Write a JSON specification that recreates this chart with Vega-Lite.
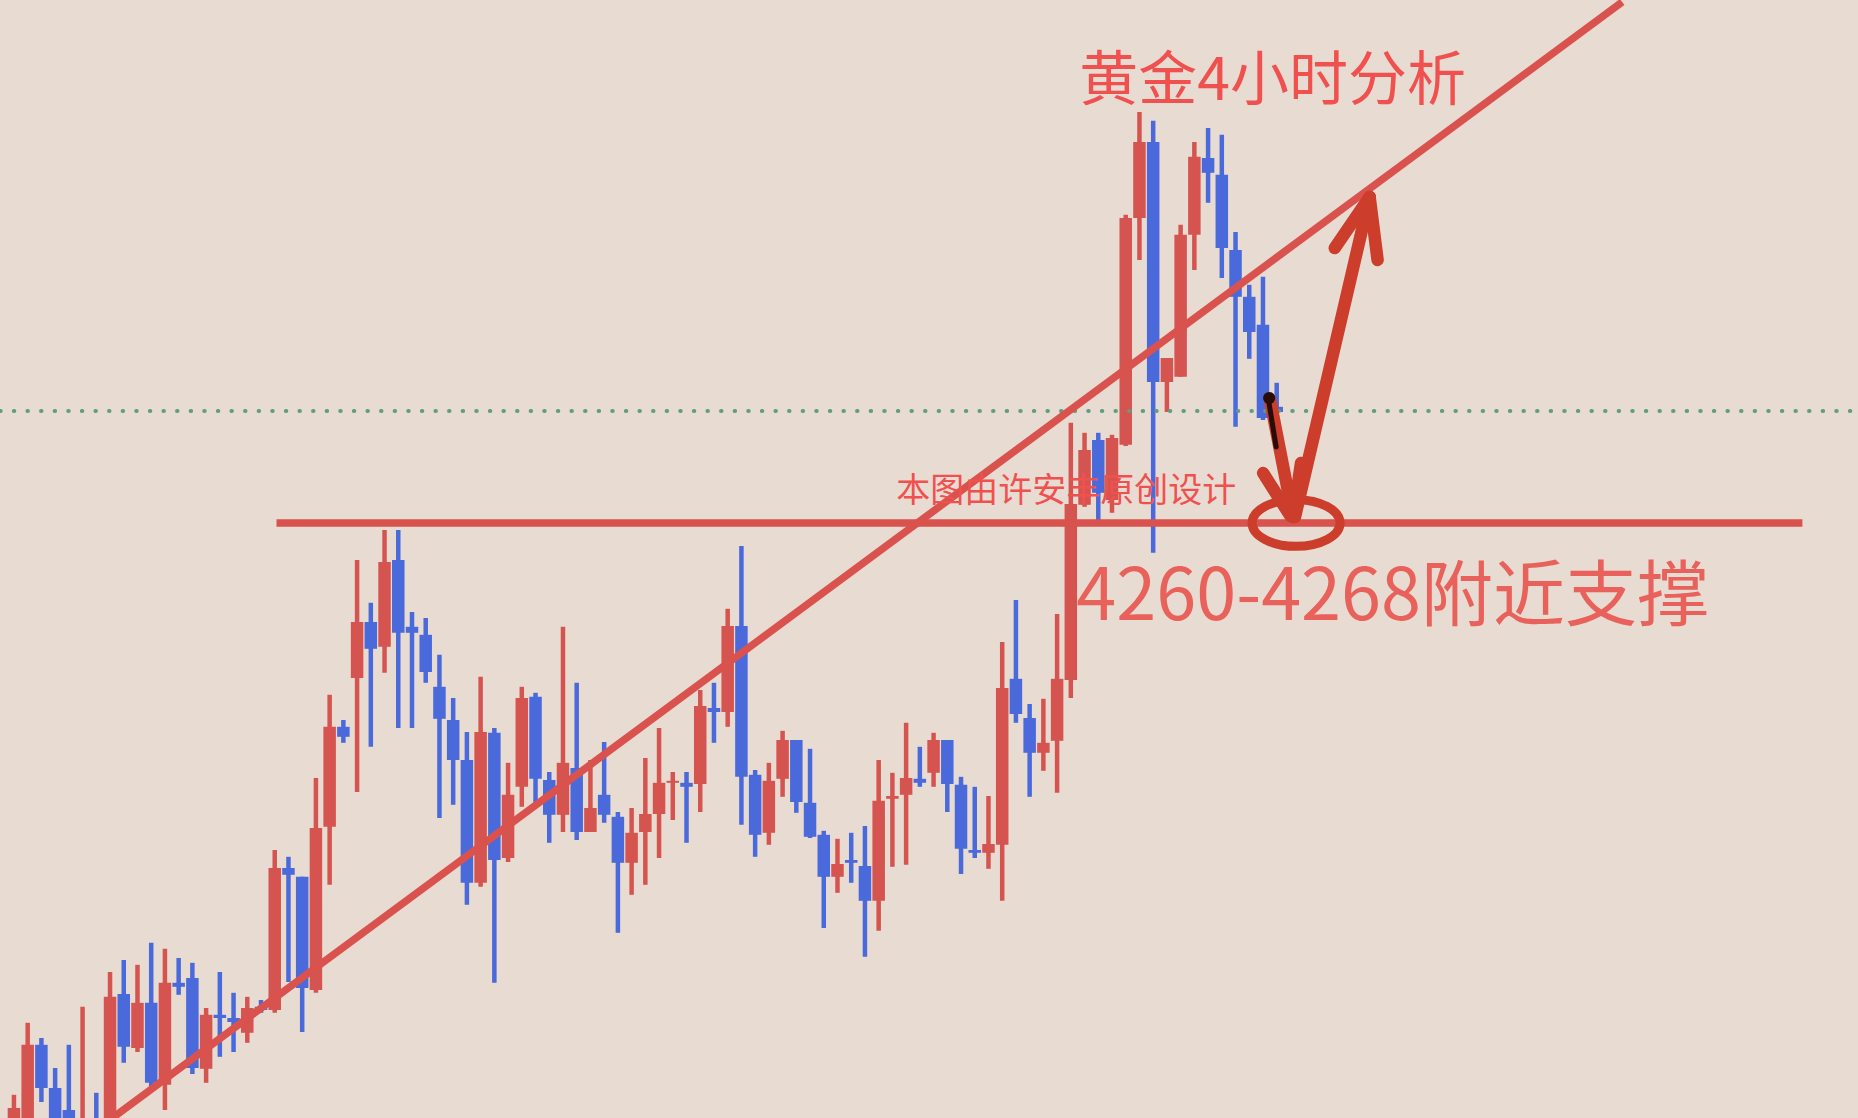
{
"$schema": "https://vega.github.io/schema/vega-lite/v6.json",
"width": 1858, "height": 1118,
"autosize": {"type": "fit", "contains": "padding"},
"padding": 0,
"background": "#E8DBD2",
"config": {"view": {"stroke": null}},
"datasets": {
"candles": [
{"i":0,"o":4110,"c":4118,"h":4121.3,"l":4108},
{"i":1,"o":4110,"c":4133.8,"h":4139.3,"l":4108},
{"i":2,"o":4133.8,"c":4123,"h":4135.5,"l":4119.5},
{"i":3,"o":4123,"c":4108,"h":4128,"l":4106},
{"i":4,"o":4117.5,"c":4108,"h":4133.8,"l":4106},
{"i":5,"o":4108,"c":4112,"h":4143.3,"l":4106},
{"i":6,"o":4114,"c":4108,"h":4121.8,"l":4106},
{"i":7,"o":4110,"c":4145.8,"h":4152,"l":4108},
{"i":8,"o":4146.5,"c":4133.3,"h":4155,"l":4129.3},
{"i":9,"o":4133,"c":4144.3,"h":4153.8,"l":4132},
{"i":10,"o":4144.3,"c":4124.3,"h":4159.3,"l":4123.3},
{"i":11,"o":4123.8,"c":4149.3,"h":4157.8,"l":4117.5},
{"i":12,"o":4149.3,"c":4148.3,"h":4155.5,"l":4146.3},
{"i":13,"o":4150.5,"c":4128,"h":4154.3,"l":4126.5},
{"i":14,"o":4127.8,"c":4141.3,"h":4143,"l":4124.3},
{"i":15,"o":4141.3,"c":4140.5,"h":4152,"l":4130.8},
{"i":16,"o":4140.5,"c":4139.5,"h":4146.8,"l":4132},
{"i":17,"o":4136.8,"c":4143,"h":4145.8,"l":4134.3},
{"i":18,"o":4143.3,"c":4142.5,"h":4145,"l":4141.8},
{"i":19,"o":4142.5,"c":4178,"h":4182.5,"l":4141.8},
{"i":20,"o":4178,"c":4176.3,"h":4180.8,"l":4149.5},
{"i":21,"o":4175.8,"c":4148,"h":4175.8,"l":4137},
{"i":22,"o":4147.5,"c":4188,"h":4200.5,"l":4146.8},
{"i":23,"o":4188.3,"c":4213.3,"h":4221.3,"l":4173.8},
{"i":24,"o":4213.3,"c":4210.8,"h":4215,"l":4209.3},
{"i":25,"o":4225.5,"c":4239.5,"h":4255,"l":4197},
{"i":26,"o":4239.5,"c":4232.8,"h":4244.3,"l":4208.3},
{"i":27,"o":4233.3,"c":4254.5,"h":4262.5,"l":4226.8},
{"i":28,"o":4255,"c":4236.8,"h":4262.5,"l":4213},
{"i":29,"o":4238.3,"c":4236.8,"h":4242,"l":4213},
{"i":30,"o":4236.3,"c":4227,"h":4240.5,"l":4224.3},
{"i":31,"o":4223.3,"c":4215.3,"h":4231.3,"l":4190.5},
{"i":32,"o":4215,"c":4205,"h":4220.5,"l":4193.8},
{"i":33,"o":4205,"c":4174.3,"h":4212,"l":4168.8},
{"i":34,"o":4174.3,"c":4212,"h":4225.8,"l":4173.3},
{"i":35,"o":4211.8,"c":4180,"h":4213,"l":4149.3},
{"i":36,"o":4180.5,"c":4196.3,"h":4204.3,"l":4179.5},
{"i":37,"o":4198.3,"c":4220.5,"h":4223.3,"l":4193.3},
{"i":38,"o":4220.8,"c":4200.3,"h":4221.8,"l":4194.5},
{"i":39,"o":4200,"c":4191.3,"h":4202,"l":4184.3},
{"i":40,"o":4191.3,"c":4204.3,"h":4238.3,"l":4187},
{"i":41,"o":4203,"c":4187,"h":4224.3,"l":4185},
{"i":42,"o":4187,"c":4193,"h":4205,"l":4187},
{"i":43,"o":4196.3,"c":4191.3,"h":4209.5,"l":4189.3},
{"i":44,"o":4190.8,"c":4179.3,"h":4192,"l":4161.8},
{"i":45,"o":4179.3,"c":4186.8,"h":4193,"l":4171.3},
{"i":46,"o":4187,"c":4191.5,"h":4205.5,"l":4173.8},
{"i":47,"o":4191.5,"c":4199.3,"h":4213,"l":4180.5},
{"i":48,"o":4199.3,"c":4199.8,"h":4202,"l":4190},
{"i":49,"o":4199.3,"c":4198.3,"h":4202,"l":4184.3},
{"i":50,"o":4199,"c":4218.5,"h":4222.5,"l":4192},
{"i":51,"o":4218,"c":4217,"h":4224.3,"l":4209.3},
{"i":52,"o":4217,"c":4238.5,"h":4242.8,"l":4213.3},
{"i":53,"o":4238.5,"c":4200.8,"h":4258.5,"l":4188.8},
{"i":54,"o":4201.3,"c":4186.3,"h":4202.5,"l":4180.8},
{"i":55,"o":4186.8,"c":4199.8,"h":4204.3,"l":4183.8},
{"i":56,"o":4200.3,"c":4210,"h":4212.3,"l":4195.8},
{"i":57,"o":4210,"c":4194.5,"h":4210,"l":4191.8},
{"i":58,"o":4194.3,"c":4185.8,"h":4207.8,"l":4185.5},
{"i":59,"o":4186.3,"c":4175.8,"h":4187.3,"l":4163},
{"i":60,"o":4175.8,"c":4179,"h":4185.3,"l":4171.8},
{"i":61,"o":4180,"c":4179.3,"h":4186.8,"l":4174.3},
{"i":62,"o":4178.5,"c":4169.8,"h":4188.5,"l":4155.8},
{"i":63,"o":4169.8,"c":4194.8,"h":4205,"l":4162.3},
{"i":64,"o":4195.3,"c":4196,"h":4201.8,"l":4178.3},
{"i":65,"o":4196.3,"c":4200.5,"h":4214.3,"l":4178.8},
{"i":66,"o":4200.3,"c":4199.3,"h":4208.3,"l":4198.3},
{"i":67,"o":4201.8,"c":4210,"h":4211.8,"l":4198.3},
{"i":68,"o":4210,"c":4199,"h":4210,"l":4192},
{"i":69,"o":4198.8,"c":4182.8,"h":4200.8,"l":4176.5},
{"i":70,"o":4182.5,"c":4181.8,"h":4198.3,"l":4180.5},
{"i":71,"o":4181.8,"c":4184,"h":4196,"l":4177.8},
{"i":72,"o":4183.8,"c":4223,"h":4234.5,"l":4169.8},
{"i":73,"o":4225.3,"c":4216.5,"h":4245,"l":4214.3},
{"i":74,"o":4215.5,"c":4206.8,"h":4219,"l":4195.8},
{"i":75,"o":4206.8,"c":4209.3,"h":4220.3,"l":4202.3},
{"i":76,"o":4209.8,"c":4225.3,"h":4241.5,"l":4196.8},
{"i":77,"o":4225,"c":4269,"h":4289.3,"l":4220.5},
{"i":78,"o":4268.8,"c":4282.5,"h":4286.8,"l":4268.3},
{"i":79,"o":4285,"c":4271.8,"h":4286.8,"l":4265},
{"i":80,"o":4270,"c":4285.5,"h":4286.3,"l":4266.8},
{"i":81,"o":4283.8,"c":4340.5,"h":4341.3,"l":4283.5},
{"i":82,"o":4340.5,"c":4359.5,"h":4367,"l":4330},
{"i":83,"o":4359.5,"c":4299.5,"h":4364.8,"l":4256.8},
{"i":84,"o":4299.5,"c":4305.5,"h":4305.5,"l":4292},
{"i":85,"o":4300.8,"c":4336.3,"h":4338.8,"l":4300.8},
{"i":86,"o":4336.3,"c":4355.8,"h":4359.5,"l":4327.5},
{"i":87,"o":4355.5,"c":4351.8,"h":4363,"l":4344.3},
{"i":88,"o":4351.3,"c":4333,"h":4361.3,"l":4325.5},
{"i":89,"o":4332.5,"c":4320.8,"h":4337,"l":4288.3},
{"i":90,"o":4320.8,"c":4312,"h":4323.8,"l":4305.3},
{"i":91,"o":4313.8,"c":4290.5,"h":4325.8,"l":4290},
{"i":92,"o":4293.3,"c":4292,"h":4299.3,"l":4291.8}
],
"trend": [{"i":7.17,"p":4115.5},{"i":117.17,"p":4394.5}],
"support": [{"i":19.13,"p":4264.25},{"i":130.3,"p":4264.25}],
"dotted": [{"i":-1,"p":4292.25},{"i":135,"p":4292.25}],
"arrows": [
{"s":1,"k":0,"i":91.52,"p":4295.0},{"s":1,"k":1,"i":93.19,"p":4265.75},
{"s":2,"k":0,"i":91.01,"p":4276.75},{"s":2,"k":1,"i":93.0,"p":4266.0},
{"s":3,"k":0,"i":93.77,"p":4279.25},{"s":3,"k":1,"i":93.19,"p":4265.75},
{"s":4,"k":0,"i":93.33,"p":4265.75},{"s":4,"k":1,"i":98.77,"p":4345.75},
{"s":5,"k":0,"i":96.23,"p":4333.0},{"s":5,"k":1,"i":98.77,"p":4345.75},
{"s":6,"k":0,"i":99.35,"p":4330.0},{"s":6,"k":1,"i":98.77,"p":4345.75}
],
"pen": [{"k":0,"i":91.38,"p":4295.5},{"k":1,"i":91.96,"p":4283.25}]
},
"layer": [
{"data": {"name": "candles"},
 "mark": {"type": "rule", "strokeWidth": 4.5, "clip": true},
 "encoding": {
  "x": {"field": "i", "type": "quantitative", "axis": null, "scale": {"domain": [-0.652, 133.986], "nice": false, "zero": false}},
  "y": {"field": "h", "type": "quantitative", "axis": null, "scale": {"domain": [4115.5, 4395], "nice": false, "zero": false}},
  "y2": {"field": "l"},
  "color": {"condition": {"test": "datum.c >= datum.o", "value": "#D65450"}, "value": "#4A6ADB"}
 }},
{"data": {"name": "candles"},
 "mark": {"type": "bar", "size": 12.5, "clip": true},
 "encoding": {
  "x": {"field": "i", "type": "quantitative", "axis": null, "scale": {"domain": [-0.652, 133.986], "nice": false, "zero": false}},
  "y": {"field": "o", "type": "quantitative", "axis": null, "scale": {"domain": [4115.5, 4395], "nice": false, "zero": false}},
  "y2": {"field": "c"},
  "color": {"condition": {"test": "datum.c >= datum.o", "value": "#D65450"}, "value": "#4A6ADB"}
 }},
{"data": {"name": "dotted"},
 "mark": {"type": "line", "stroke": "#5E9E82", "strokeWidth": 4, "strokeDash": [0.5, 13.1], "strokeCap": "round", "clip": true},
 "encoding": {
  "x": {"field": "i", "type": "quantitative", "axis": null, "scale": {"domain": [-0.652, 133.986], "nice": false, "zero": false}},
  "y": {"field": "p", "type": "quantitative", "axis": null, "scale": {"domain": [4115.5, 4395], "nice": false, "zero": false}}
 }},
{"data": {"name": "trend"},
 "mark": {"type": "line", "stroke": "#D9524D", "strokeWidth": 7.5, "clip": true},
 "encoding": {
  "x": {"field": "i", "type": "quantitative", "axis": null, "scale": {"domain": [-0.652, 133.986], "nice": false, "zero": false}},
  "y": {"field": "p", "type": "quantitative", "axis": null, "scale": {"domain": [4115.5, 4395], "nice": false, "zero": false}}
 }},
{"data": {"name": "support"},
 "mark": {"type": "line", "stroke": "#D9524D", "strokeWidth": 7.5, "clip": true},
 "encoding": {
  "x": {"field": "i", "type": "quantitative", "axis": null, "scale": {"domain": [-0.652, 133.986], "nice": false, "zero": false}},
  "y": {"field": "p", "type": "quantitative", "axis": null, "scale": {"domain": [4115.5, 4395], "nice": false, "zero": false}}
 }},
{"data": {"values": [{"i": 64.28, "p": 4272, "label": "本图由许安丰原创设计"}]},
 "mark": {"type": "text", "align": "left", "baseline": "middle", "font": "Noto Sans CJK SC", "fontSize": 34, "color": "#F0514F"},
 "encoding": {
  "x": {"field": "i", "type": "quantitative", "axis": null, "scale": {"domain": [-0.652, 133.986], "nice": false, "zero": false}},
  "y": {"field": "p", "type": "quantitative", "axis": null, "scale": {"domain": [4115.5, 4395], "nice": false, "zero": false}},
  "text": {"field": "label"}
 }},
{"data": {"values": [{"i": 77.61, "p": 4374.5, "label": "黄金4小时分析"}]},
 "mark": {"type": "text", "align": "left", "baseline": "middle", "font": "Noto Sans CJK SC", "fontSize": 59, "color": "#F0514F"},
 "encoding": {
  "x": {"field": "i", "type": "quantitative", "axis": null, "scale": {"domain": [-0.652, 133.986], "nice": false, "zero": false}},
  "y": {"field": "p", "type": "quantitative", "axis": null, "scale": {"domain": [4115.5, 4395], "nice": false, "zero": false}},
  "text": {"field": "label"}
 }},
{"data": {"values": [{"i": 77.4, "p": 4245.5, "label": "4260-4268附近支撑"}]},
 "mark": {"type": "text", "align": "left", "baseline": "middle", "font": "Noto Sans CJK SC", "fontSize": 72, "color": "#E8625B"},
 "encoding": {
  "x": {"field": "i", "type": "quantitative", "axis": null, "scale": {"domain": [-0.652, 133.986], "nice": false, "zero": false}},
  "y": {"field": "p", "type": "quantitative", "axis": null, "scale": {"domain": [4115.5, 4395], "nice": false, "zero": false}},
  "text": {"field": "label"}
 }},
{"data": {"values": [{"i": 93.41, "p": 4264.25}]},
 "mark": {"type": "point", "shape": "M-1,0A1,0.53,0,1,0,1,0A1,0.53,0,1,0,-1,0Z", "size": 7744, "filled": false, "stroke": "#CC3D2C", "strokeWidth": 9, "opacity": 1},
 "encoding": {
  "x": {"field": "i", "type": "quantitative", "axis": null, "scale": {"domain": [-0.652, 133.986], "nice": false, "zero": false}},
  "y": {"field": "p", "type": "quantitative", "axis": null, "scale": {"domain": [4115.5, 4395], "nice": false, "zero": false}}
 }},
{"data": {"name": "arrows"},
 "mark": {"type": "line", "stroke": "#CC3D2C", "strokeWidth": 12.5, "strokeCap": "round", "strokeJoin": "round"},
 "encoding": {
  "x": {"field": "i", "type": "quantitative", "axis": null, "scale": {"domain": [-0.652, 133.986], "nice": false, "zero": false}},
  "y": {"field": "p", "type": "quantitative", "axis": null, "scale": {"domain": [4115.5, 4395], "nice": false, "zero": false}},
  "detail": {"field": "s", "type": "nominal"},
  "order": {"field": "k", "type": "quantitative"}
 }},
{"data": {"name": "pen"},
 "mark": {"type": "line", "stroke": "#2A0C07", "strokeWidth": 5, "strokeCap": "round"},
 "encoding": {
  "x": {"field": "i", "type": "quantitative", "axis": null, "scale": {"domain": [-0.652, 133.986], "nice": false, "zero": false}},
  "y": {"field": "p", "type": "quantitative", "axis": null, "scale": {"domain": [4115.5, 4395], "nice": false, "zero": false}},
  "order": {"field": "k", "type": "quantitative"}
 }},
{"data": {"values": [{"i": 91.45, "p": 4295.5}]},
 "mark": {"type": "point", "shape": "circle", "size": 150, "filled": true, "color": "#2A0C07", "opacity": 1},
 "encoding": {
  "x": {"field": "i", "type": "quantitative", "axis": null, "scale": {"domain": [-0.652, 133.986], "nice": false, "zero": false}},
  "y": {"field": "p", "type": "quantitative", "axis": null, "scale": {"domain": [4115.5, 4395], "nice": false, "zero": false}}
 }}
]
}
